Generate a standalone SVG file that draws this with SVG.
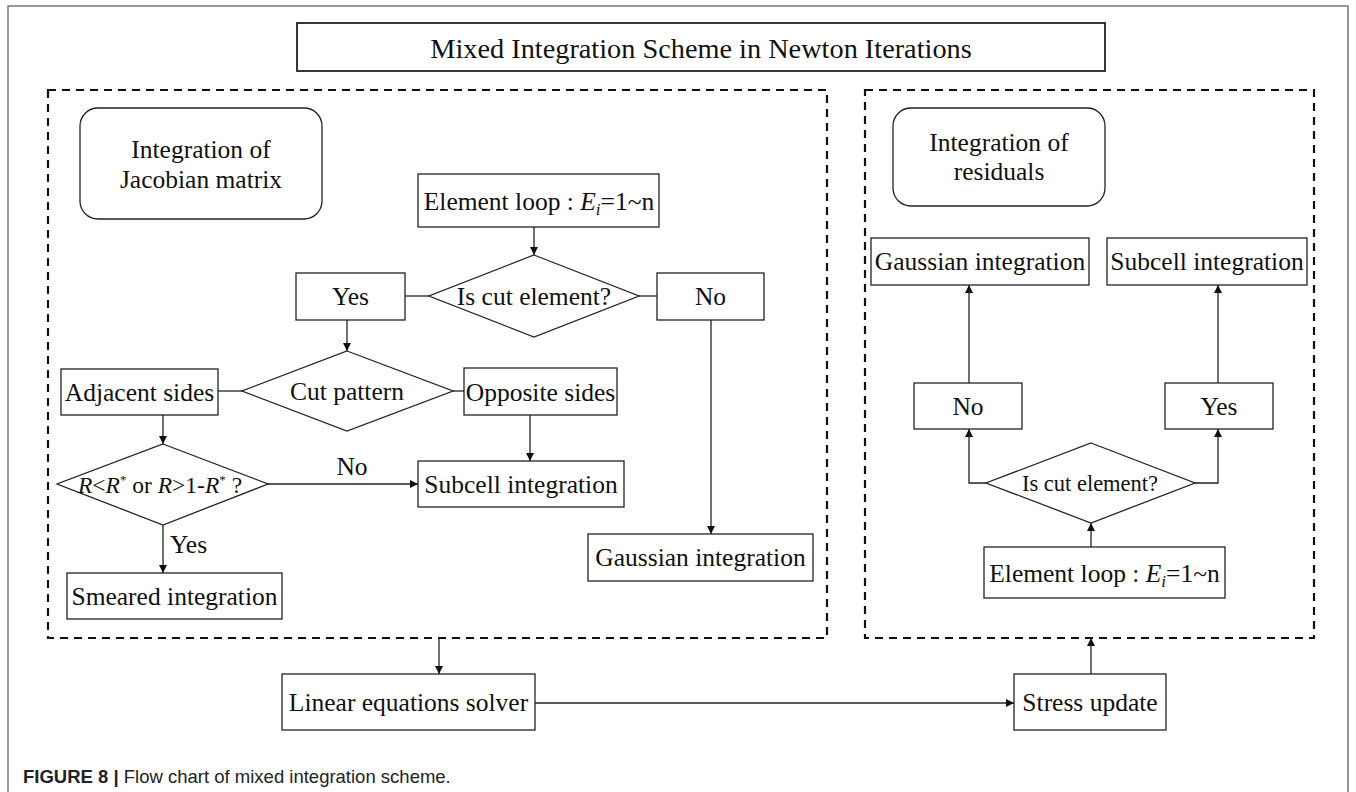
<svg xmlns="http://www.w3.org/2000/svg" width="1356" height="792" viewBox="0 0 1356 792">
<defs>
<style>
.box{fill:#fff;stroke:#222;stroke-width:1.3}
.dash{fill:none;stroke:#111;stroke-width:2.2;stroke-dasharray:8 6}
.t{font-family:"Liberation Serif","Times New Roman",serif;font-size:25.5px;fill:#111;text-anchor:middle}
.c{fill:none;stroke:#222;stroke-width:1.3}
.i{font-style:italic}
</style>
<marker id="ah" viewBox="0 0 10 10" refX="10" refY="5" markerWidth="10" markerHeight="8" markerUnits="userSpaceOnUse" orient="auto">
<path d="M0,0 L10,5 L0,10 z" fill="#111"/>
</marker>
</defs>
<rect width="1356" height="792" fill="#fff"/>
<path d="M8,792 V6 H1348 V792" fill="none" stroke="#777" stroke-width="1.5"/>

<g id="title">
<rect x="297" y="23" width="808" height="48" fill="#fff" stroke="#222" stroke-width="1.8"/>
<text class="t" x="701" y="58" style="font-size:28.3px">Mixed Integration Scheme in Newton Iterations</text>
</g>

<g id="panel-left"><rect class="dash" x="48" y="90" width="779" height="548"/></g>
<g id="panel-right"><rect class="dash" x="865" y="90" width="449" height="548"/></g>

<g id="connectors">
<line class="c" x1="534" y1="227" x2="534" y2="255" marker-end="url(#ah)"/>
<line class="c" x1="405" y1="296" x2="429" y2="296"/>
<line class="c" x1="639" y1="296" x2="657" y2="296"/>
<line class="c" x1="347" y1="320" x2="347" y2="351" marker-end="url(#ah)"/>
<line class="c" x1="242" y1="391" x2="218" y2="391"/>
<line class="c" x1="453" y1="391" x2="464" y2="391"/>
<line class="c" x1="530" y1="415" x2="530" y2="461" marker-end="url(#ah)"/>
<line class="c" x1="163" y1="415" x2="163" y2="444" marker-end="url(#ah)"/>
<line class="c" x1="268" y1="484" x2="418" y2="484" marker-end="url(#ah)"/>
<text class="t" x="352" y="475">No</text>
<line class="c" x1="163" y1="525" x2="163" y2="573" marker-end="url(#ah)"/>
<text class="t" x="170" y="553" style="text-anchor:start">Yes</text>
<line class="c" x1="711" y1="320" x2="711" y2="534" marker-end="url(#ah)"/>
<line class="c" x1="439" y1="638" x2="439" y2="674" marker-end="url(#ah)"/>
<line class="c" x1="535" y1="703" x2="1014" y2="703" marker-end="url(#ah)"/>
<line class="c" x1="1091" y1="674" x2="1091" y2="638" marker-end="url(#ah)"/>
<line class="c" x1="1091" y1="547" x2="1091" y2="523" marker-end="url(#ah)"/>
<polyline class="c" points="986,483 969,483 969,429" marker-end="url(#ah)"/>
<polyline class="c" points="1195,483 1218,483 1218,429" marker-end="url(#ah)"/>
<line class="c" x1="969" y1="383" x2="969" y2="285" marker-end="url(#ah)"/>
<line class="c" x1="1218" y1="383" x2="1218" y2="285" marker-end="url(#ah)"/>
</g>

<g id="jacobian-label">
<rect class="box" x="80" y="108" width="242" height="111" rx="18"/>
<text class="t" x="201" y="158">Integration of</text>
<text class="t" x="201" y="188">Jacobian matrix</text>
</g>
<g id="element-loop-left">
<rect class="box" x="418" y="174" width="241" height="53"/>
<text class="t" x="539" y="210">Element loop : <tspan class="i">E</tspan><tspan class="i" style="font-size:17px" dy="5">i</tspan><tspan dy="-5">=1~n</tspan></text>
</g>
<g id="is-cut-left">
<polygon class="box" points="534,255 639,296 534,337 429,296"/>
<text class="t" x="534" y="305">Is cut element?</text>
</g>
<g id="yes-left">
<rect class="box" x="296" y="273" width="109" height="47"/>
<text class="t" x="350.5" y="305">Yes</text>
</g>
<g id="no-left">
<rect class="box" x="657" y="273" width="107" height="47"/>
<text class="t" x="710.5" y="305">No</text>
</g>
<g id="cut-pattern">
<polygon class="box" points="347,351 453,391 347,431 242,391"/>
<text class="t" x="347" y="400">Cut pattern</text>
</g>
<g id="adjacent-sides">
<rect class="box" x="61" y="369" width="157" height="46"/>
<text class="t" x="139.5" y="401">Adjacent sides</text>
</g>
<g id="opposite-sides">
<rect class="box" x="464" y="368" width="153" height="47"/>
<text class="t" x="540.5" y="401">Opposite sides</text>
</g>
<g id="r-check">
<polygon class="box" points="163,444 268,484 163,525 57,484"/>
<text class="t" x="160" y="493" style="font-size:23.5px"><tspan class="i">R</tspan>&lt;<tspan class="i">R</tspan><tspan style="font-size:13px" dy="-9">*</tspan><tspan dy="9"> or </tspan><tspan class="i">R</tspan>&gt;1-<tspan class="i">R</tspan><tspan style="font-size:13px" dy="-9">*</tspan><tspan dy="9"> ?</tspan></text>
</g>
<g id="subcell-left">
<rect class="box" x="418" y="461" width="206" height="46"/>
<text class="t" x="521" y="493">Subcell integration</text>
</g>
<g id="smeared">
<rect class="box" x="67" y="573" width="215" height="46"/>
<text class="t" x="174.5" y="605">Smeared integration</text>
</g>
<g id="gaussian-left">
<rect class="box" x="588" y="534" width="225" height="47"/>
<text class="t" x="700.5" y="566">Gaussian integration</text>
</g>

<g id="residuals-label">
<rect class="box" x="893" y="108" width="212" height="98" rx="18"/>
<text class="t" x="999" y="151">Integration of</text>
<text class="t" x="999" y="180">residuals</text>
</g>
<g id="gaussian-right">
<rect class="box" x="871" y="238" width="218" height="47"/>
<text class="t" x="980" y="270">Gaussian integration</text>
</g>
<g id="subcell-right">
<rect class="box" x="1107" y="238" width="200" height="47"/>
<text class="t" x="1207" y="270">Subcell integration</text>
</g>
<g id="no-right">
<rect class="box" x="914" y="383" width="108" height="46"/>
<text class="t" x="968" y="415">No</text>
</g>
<g id="yes-right">
<rect class="box" x="1165" y="383" width="108" height="46"/>
<text class="t" x="1219" y="415">Yes</text>
</g>
<g id="is-cut-right">
<polygon class="box" points="1091,443 1195,483 1091,523 986,483"/>
<text class="t" x="1090" y="491" style="font-size:22.5px">Is cut element?</text>
</g>
<g id="element-loop-right">
<rect class="box" x="984" y="547" width="241" height="51"/>
<text class="t" x="1104.5" y="582">Element loop : <tspan class="i">E</tspan><tspan class="i" style="font-size:17px" dy="5">i</tspan><tspan dy="-5">=1~n</tspan></text>
</g>

<g id="linear-solver">
<rect class="box" x="282" y="674" width="253" height="56"/>
<text class="t" x="408.5" y="711">Linear equations solver</text>
</g>
<g id="stress-update">
<rect class="box" x="1014" y="674" width="152" height="56"/>
<text class="t" x="1090" y="711">Stress update</text>
</g>

<text x="23" y="783" style="font-family:'Liberation Sans',Arial,sans-serif;font-size:18.5px;fill:#222"><tspan font-weight="bold">FIGURE 8 | </tspan>Flow chart of mixed integration scheme.</text>
</svg>
